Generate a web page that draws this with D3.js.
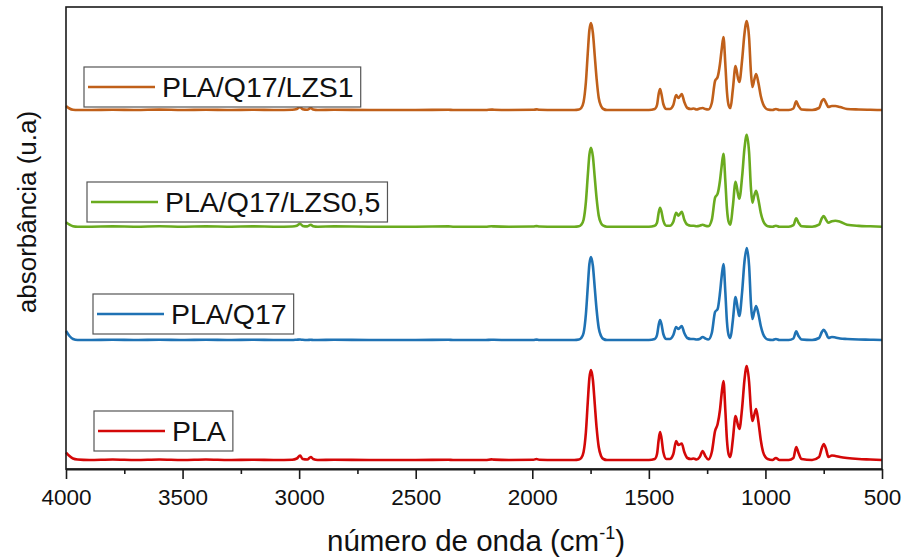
<!DOCTYPE html>
<html>
<head>
<meta charset="utf-8">
<script src="https://cdn.jsdelivr.net/npm/d3@7"></script>
<style>
    body { margin: 0; background: #fff; }
    svg { display: block; font-family: "Liberation Sans", Arial, sans-serif; }
</style>
</head>
<body>
<svg id="ftir" width="905" height="558"></svg>
<script>
// wavenumber grid (cm-1), shared by every spectrum
const wavenumbers = [
    4000, 3985, 3970, 3950, 3900, 3800, 3700, 3600, 3500, 3400,
    3300, 3200, 3100, 3030, 3010, 2996, 2985, 2965, 2950, 2940,
    2920, 2850, 2700, 2500, 2360, 2340, 2200, 2175, 2165, 2100,
    1995, 1982, 1970, 1900, 1820, 1800, 1790, 1780, 1770, 1762,
    1755, 1748, 1740, 1732, 1724, 1715, 1705, 1695, 1680, 1600,
    1500, 1475, 1465, 1458, 1452, 1446, 1438, 1425, 1410, 1395,
    1383, 1373, 1359, 1348, 1335, 1320, 1308, 1295, 1282, 1269,
    1258, 1245, 1230, 1216, 1205, 1195, 1188, 1180, 1172, 1165,
    1158, 1150, 1140, 1128, 1118, 1112, 1100, 1090, 1080, 1070,
    1062, 1056, 1048, 1040, 1030, 1020, 1010, 1000, 990, 970,
    955, 940, 900, 880, 868, 858, 845, 800, 770, 758,
    750, 740, 730, 715, 700, 680, 650, 600, 550, 500
];

const seriesNames = ["PLA", "PLA/Q17", "PLA/Q17/LZS0,5", "PLA/Q17/LZS1"];
const seriesColors = ["#d40808", "#1f72b4", "#6aab1f", "#c0601a"];
// vertical shift applied to each spectrum (u.a)
const seriesOffsets = [0.09, 1.29, 2.423, 3.59];

const absPLA = [
    0.075, 0.04, 0.015, 0.005, 0, 0.005, 0, 0.005, 0, 0.005,
    0, 0.003, 0, 0.002, 0.015, 0.045, 0.01, 0.005, 0.03, 0.01,
    0, 0.003, 0, 0, 0.003, 0, 0, 0.006, 0.004, 0,
    0.002, 0.01, 0.002, 0, 0, 0.005, 0.02, 0.08, 0.28, 0.58,
    0.82, 0.90, 0.80, 0.56, 0.32, 0.13, 0.04, 0.01, 0, 0,
    0, 0.01, 0.06, 0.20, 0.28, 0.22, 0.08, 0.01, 0.01, 0.06,
    0.19, 0.15, 0.165, 0.08, 0.02, 0.01, 0.015, 0.005, 0.03, 0.09,
    0.04, 0.005, 0.08, 0.29, 0.36, 0.50, 0.66, 0.79, 0.50, 0.20,
    0.06, 0.03, 0.20, 0.44, 0.35, 0.31, 0.52, 0.80, 0.94, 0.78,
    0.50, 0.39, 0.45, 0.51, 0.38, 0.20, 0.08, 0.03, 0.01, 0,
    0.02, 0, 0, 0.02, 0.13, 0.07, 0.01, 0, 0.03, 0.12,
    0.16, 0.11, 0.03, 0.045, 0.04, 0.03, 0.02, 0.01, 0.005, 0
];

const absQ17 = [
    0.09, 0.04, 0.01, 0, 0, 0.003, 0, 0.003, 0, 0.003,
    0, 0.003, 0, 0, 0.003, 0.005, 0.002, 0, 0.003, 0,
    0, 0.002, 0, 0, 0.002, 0, 0, 0.003, 0.002, 0,
    0, 0.004, 0, 0, 0, 0.005, 0.02, 0.07, 0.26, 0.53,
    0.76, 0.83, 0.74, 0.52, 0.30, 0.12, 0.04, 0.01, 0, 0,
    0, 0.01, 0.05, 0.15, 0.20, 0.16, 0.06, 0.01, 0.01, 0.05,
    0.13, 0.11, 0.14, 0.07, 0.02, 0.01, 0.01, 0.005, 0.01, 0.03,
    0.015, 0.005, 0.07, 0.28, 0.31, 0.47, 0.63, 0.76, 0.48, 0.18,
    0.05, 0.02, 0.19, 0.43, 0.30, 0.24, 0.48, 0.78, 0.92, 0.74,
    0.36, 0.21, 0.28, 0.34, 0.26, 0.14, 0.06, 0.02, 0.005, 0,
    0.01, 0, 0, 0.015, 0.086, 0.04, 0.005, 0, 0.02, 0.08,
    0.103, 0.07, 0.02, 0.03, 0.025, 0.015, 0.01, 0.005, 0.003, 0
];

const absLZS05 = [
    0.045, 0.02, 0.005, 0, 0, 0.003, 0, 0.004, 0, 0.003,
    0, 0.003, 0, 0.002, 0.01, 0.03, 0.008, 0.003, 0.02, 0.005,
    0, 0.003, 0, 0, 0.003, 0, 0, 0.004, 0.003, 0,
    0.002, 0.006, 0.002, 0, 0, 0.005, 0.02, 0.07, 0.25, 0.51,
    0.72, 0.79, 0.70, 0.49, 0.28, 0.11, 0.035, 0.01, 0, 0,
    0, 0.01, 0.04, 0.14, 0.19, 0.15, 0.06, 0.01, 0.01, 0.05,
    0.14, 0.11, 0.15, 0.07, 0.02, 0.01, 0.01, 0.005, 0.01, 0.02,
    0.01, 0.005, 0.07, 0.29, 0.33, 0.46, 0.60, 0.73, 0.46, 0.18,
    0.05, 0.02, 0.20, 0.45, 0.33, 0.28, 0.50, 0.78, 0.92, 0.74,
    0.38, 0.24, 0.31, 0.36, 0.27, 0.14, 0.06, 0.02, 0.005, 0,
    0.01, 0, 0, 0.015, 0.084, 0.04, 0.005, 0, 0.02, 0.085,
    0.107, 0.07, 0.04, 0.055, 0.06, 0.05, 0.02, 0.008, 0.004, 0
];

const absLZS1 = [
    0.04, 0.015, 0.003, 0, 0, 0.003, 0, 0.004, 0, 0.003,
    0, 0.003, 0, 0.002, 0.01, 0.03, 0.008, 0.003, 0.02, 0.005,
    0, 0.003, 0, 0, 0.003, 0, 0, 0.004, 0.003, 0,
    0.002, 0.006, 0.002, 0, 0, 0.005, 0.02, 0.08, 0.28, 0.57,
    0.80, 0.87, 0.77, 0.54, 0.31, 0.12, 0.04, 0.01, 0, 0,
    0, 0.01, 0.05, 0.16, 0.21, 0.16, 0.06, 0.01, 0.01, 0.05,
    0.15, 0.12, 0.16, 0.08, 0.02, 0.01, 0.015, 0.005, 0.015, 0.02,
    0.01, 0.005, 0.07, 0.29, 0.33, 0.46, 0.60, 0.73, 0.46, 0.18,
    0.05, 0.02, 0.20, 0.44, 0.32, 0.28, 0.50, 0.76, 0.89, 0.72,
    0.37, 0.23, 0.30, 0.36, 0.27, 0.14, 0.06, 0.02, 0.005, 0,
    0.01, 0, 0, 0.015, 0.086, 0.04, 0.005, 0, 0.02, 0.09,
    0.11, 0.07, 0.03, 0.04, 0.04, 0.03, 0.01, 0.005, 0.002, 0
];

const seriesValues = [absPLA, absQ17, absLZS05, absLZS1];

const xMajorTicks = [4000, 3500, 3000, 2500, 2000, 1500, 1000, 500];
const xMinorTicks = [3750, 3250, 2750, 2250, 1750, 1250, 750];
const xDomain = [4000, 500];
const yDomain = [0, 4.62];

// ---- layout ----
const svg = d3.select('#ftir');

const PLOT_LEFT = 66;
const PLOT_RIGHT = 882;
const PLOT_TOP = 7;
const PLOT_BOTTOM = 469;

const FONT_TICK = 22.5;
const FONT_TITLE = 29.5;
const FONT_LEGEND = 28.5;

// legend box corners, same order as seriesNames
const LEGEND_BOX = [
    {x: 94, y: 411},
    {x: 93, y: 294},
    {x: 87, y: 182},
    {x: 84, y: 67},
];
const LEGEND_H = 40;
const LEGEND_LINE = 67;

const x = d3.scaleLinear().domain(xDomain).range([PLOT_LEFT, PLOT_RIGHT]);
const y = d3.scaleLinear().domain(yDomain).range([PLOT_BOTTOM, PLOT_TOP]);

drawSpectra();
drawFrame();
drawAxis();
drawLegend();

function drawSpectra() {
    const line = d3.line()
        .x(d => x(d[0]))
        .y(d => y(d[1]))
        .curve(d3.curveMonotoneX);

    seriesValues.forEach((vals, i) => {
        const pts = wavenumbers.map((wn, k) => [wn, vals[k] + seriesOffsets[i]]);
        svg.append('path')
            .datum(pts)
            .attr('d', line)
            .attr('fill', 'none')
            .attr('stroke', seriesColors[i])
            .attr('stroke-width', 2.6)
            .attr('stroke-linejoin', 'round');
    });
}

function drawFrame() {
    svg.append('rect')
        .attr('x', PLOT_LEFT)
        .attr('y', PLOT_TOP)
        .attr('width', PLOT_RIGHT - PLOT_LEFT)
        .attr('height', PLOT_BOTTOM - PLOT_TOP)
        .attr('fill', 'none')
        .attr('stroke', '#1a1a1a')
        .attr('stroke-width', 1.6);
}

function drawAxis() {
    const gMinor = svg.append('g')
        .attr('transform', `translate(0,${PLOT_BOTTOM})`)
        .call(d3.axisBottom(x).tickValues(xMinorTicks).tickSize(5).tickFormat(''));
    gMinor.select('.domain').remove();

    const gMajor = svg.append('g')
        .attr('transform', `translate(0,${PLOT_BOTTOM})`)
        .call(d3.axisBottom(x)
            .tickValues(xMajorTicks)
            .tickFormat(d3.format('d'))
            .tickSize(10)
            .tickSizeOuter(0)
            .tickPadding(10));

    gMajor.select('.domain').attr('stroke', '#1a1a1a').attr('stroke-width', 2);
    svg.selectAll('.tick line').attr('stroke', '#1a1a1a').attr('stroke-width', 1.6);
    gMajor.selectAll('.tick text')
        .attr('font-size', FONT_TICK)
        .attr('font-family', '"Liberation Sans", Arial, sans-serif')
        .attr('fill', '#111');

    const xt = svg.append('text')
        .attr('x', (PLOT_LEFT + PLOT_RIGHT) / 2 + 2)
        .attr('y', 551)
        .attr('text-anchor', 'middle')
        .attr('font-size', FONT_TITLE)
        .attr('fill', '#111');
    xt.append('tspan').text('número de onda (cm');
    xt.append('tspan').text('-1').attr('font-size', 18).attr('dy', -12);
    xt.append('tspan').text(')').attr('dy', 12);

    svg.append('text')
        .text('absorbância (u.a)')
        .attr('transform', 'translate(36,212) rotate(-90)')
        .attr('text-anchor', 'middle')
        .attr('font-size', 26)
        .attr('fill', '#111');
}

function drawLegend() {
    seriesNames.forEach((name, i) => {
        const b = LEGEND_BOX[i];
        const g = svg.append('g');
        const cy = b.y + LEGEND_H / 2;

        g.append('line')
            .attr('x1', b.x + 4)
            .attr('x2', b.x + 4 + LEGEND_LINE)
            .attr('y1', cy)
            .attr('y2', cy)
            .attr('stroke', seriesColors[i])
            .attr('stroke-width', 2.6);

        const t = g.append('text')
            .text(name)
            .attr('x', b.x + 78)
            .attr('y', cy + 10)
            .attr('font-size', FONT_LEGEND)
            .attr('fill', '#111');

        const w = t.node().getComputedTextLength();
        g.insert('rect', 'line')
            .attr('x', b.x)
            .attr('y', b.y)
            .attr('width', 78 + w + 7)
            .attr('height', LEGEND_H)
            .attr('fill', '#fff')
            .attr('stroke', '#555')
            .attr('stroke-width', 1.2);
    });
}
</script>
</body>
</html>
